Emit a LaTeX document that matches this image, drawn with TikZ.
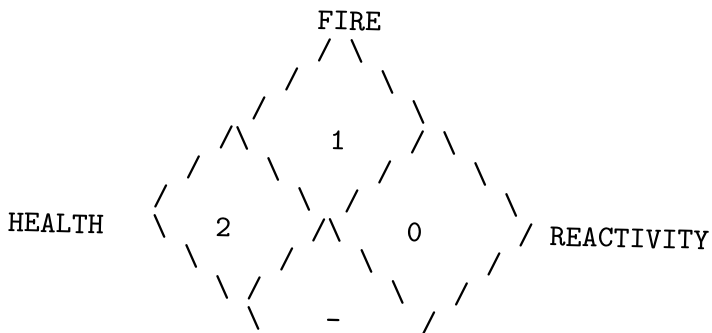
\documentclass[tikz,border=0pt]{standalone}
\usepackage{tikz}
\usetikzlibrary{positioning}
\newcommand{\bksl}{\textbackslash}
\tikzset{
  artrow/.style={font=\ttfamily\fontsize{8.64}{10}\selectfont, inner sep=0pt, outer sep=0pt, anchor=base west},
}

\begin{document}
\begin{tikzpicture}[x=0.16cm, y=0.3cm]
\useasboundingbox (-1,0.7) rectangle (43.5,-10.4);
\begin{scope}[rotate around={-1.5:(20,-7)}, transform shape]
\node (fire)  [artrow] at (18.5,-0.3)  {FIRE};
\node (row1)  [artrow] at (18.5,-1.3)  {/~\bksl};
\node (row2)  [artrow] at (16.5,-2.3)  {/~~~~~\bksl};
\node (row3)  [artrow] at (14.5,-3.3)  {/~~~~~~~~~\bksl};
\node (row4)  [artrow] at (12.5,-4.3)  {/\bksl~~~~~1~~~~/~\bksl};
\node (row5)  [artrow] at (10.5,-5.3)  {/~~~~\bksl~~~~~~/~~~~~\bksl};
\node (row6)  [artrow] at (8.5,-6.3)   {/~~~~~~~~\bksl~~/~~~~~~~~~\bksl};
\node (row7)  [artrow] at (-0.5,-7.3)  {HEALTH~~~\bksl~~~2~~~~~/\bksl~~~~0~~~~~~/~REACTIVITY};
\node (row8)  [artrow] at (10.5,-8.3)  {\bksl~~~~~/~~~~\bksl~~~~~~~/};
\node (row9)  [artrow] at (12.5,-9.3)  {\bksl~/~~~~~~~~\bksl~~~/};
\node (row10) [artrow] at (14.5,-10.3) {\bksl~~~~-~~~~~/};
\end{scope}
\end{tikzpicture}
\end{document}
